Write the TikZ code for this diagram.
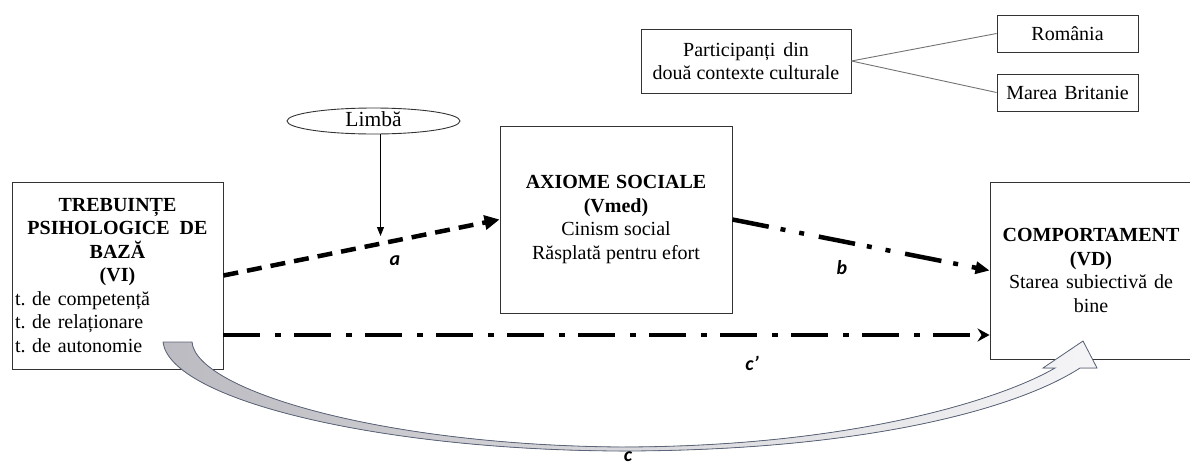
\documentclass[tikz,border=0pt]{standalone}
\usepackage{fontspec}
\setmainfont{Liberation Serif}
\newfontfamily\labfont{Carlito}
\usetikzlibrary{arrows.meta,shapes.geometric}
\definecolor{arrfillA}{HTML}{BBBBC1}
\definecolor{arrfillB}{HTML}{F5F5F7}
\definecolor{arrline}{HTML}{5B6478}
\definecolor{boxline}{HTML}{333333}
\frenchspacing
\begin{document}
\begin{tikzpicture}[x=1pt,y=-1pt,
  txt/.style={font=\fontsize{20}{23.5}\selectfont},
  box/.style={txt, draw=boxline, line width=0.9pt, rectangle, inner sep=2pt},
  lab/.style={font=\labfont\fontsize{20}{24}\selectfont\bfseries\itshape, inner sep=0pt},
  thinarrow/.style={line width=0.9pt, -{Triangle[length=9pt,width=7pt]}},
  patha/.style={line width=4.5pt, dash pattern=on 15pt off 9pt, -{Triangle[length=15pt,width=14pt]}},
  pathb/.style={line width=4.5pt, dash pattern=on 37pt off 12pt on 5pt off 14pt on 5pt off 15pt, -{Triangle[length=14pt,width=12pt]}},
  pathc/.style={line width=4.5pt, dash pattern=on 37pt off 15pt on 6pt off 13pt, -{Stealth[length=12pt,width=13pt,inset=4pt]}},
  linkline/.style={draw=gray!90!black, line width=0.9pt}
]
\useasboundingbox (0,0) rectangle (1190,466);

% participants
\node[box, minimum width=210pt, minimum height=64pt, align=center] (part) at (746,61)
  {Participanți\hspace{0.4em}din\\două contexte culturale};
\node[box, minimum width=141pt, minimum height=37pt] (rom) at (1067.5,33.5) {România};
\node[box, minimum width=141pt, minimum height=37pt] (mb) at (1067.5,92.5) {Marea\hspace{0.35em}Britanie};
\draw[linkline] (part.east) -- (rom.west);
\draw[linkline] (part.east) -- (mb.west);

% moderator
\node[draw=boxline, line width=0.9pt, ellipse, minimum width=173pt, minimum height=26pt,
      inner sep=0pt, text height=14pt, text depth=4pt, font=\fontsize{21.5}{24}\selectfont] (limba) at (373.5,121) {Limbă};
\coordinate (ltip) at (380.5,236);
\draw[thinarrow] ([xshift=7pt]limba.south) -- (ltip);

% main boxes
\node[box, minimum width=211pt, minimum height=187pt, text width=205pt, inner xsep=3pt] (vi) at (117.5,275.5)
  {{\centering\bfseries TREBUINȚE\\ PSIHOLOGICE\hspace{0.5em}DE\\ BAZĂ\\ (VI)\par}
   t. de competență\\ t. de relaționare\\ t. de autonomie};
\node[box, minimum width=232pt, minimum height=187pt, align=center] (ax) at (616,219.5)
  {\textbf{AXIOME\hspace{0.3em}SOCIALE}\\ \textbf{(Vmed)}\\ Cinism social\\ Răsplată pentru efort};
\node[box, minimum width=202pt, minimum height=177pt, align=center] (comp) at (1091,270.5)
  {\textbf{COMPORTAMENT}\\ \textbf{(VD)}\\ Starea\hspace{0.35em}subiectivă\hspace{0.35em}de\\ bine};

% curved arrow c
\filldraw[left color=arrfillA, right color=arrfillB, draw=arrline, line width=0.8pt]
  (163,342) -- (192,342)
  .. controls (196,390) and (380,445) .. (620,447)
  .. controls (850,447) and (1000,400) .. (1055,368)
  -- (1043,368) -- (1083,341) -- (1097,368) -- (1080,368)
  .. controls (1015,410) and (860,451) .. (620,451)
  .. controls (380,450) and (170,400) .. (163,342) -- cycle;

% paths
\draw[patha] (vi.east) -- (ax.west);
\draw[pathb] (ax.east) -- (comp.west);
\draw[pathc] ([yshift=-59.5pt]vi.east) -- ([yshift=-59.5pt]vi.east -| comp.west);

% labels
\node[lab] (la) at (395,261) {a};
\node[lab] (lb) at (842,268) {b};
\node[lab] (lcp) at (752,363) {c’};
\node[lab] (lc) at (628,457) {c};
\end{tikzpicture}
\end{document}
